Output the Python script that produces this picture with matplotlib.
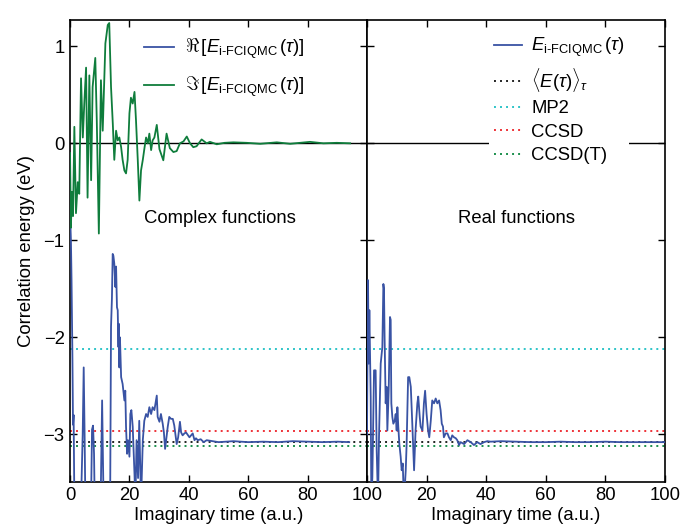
import matplotlib
matplotlib.use("Agg")
import matplotlib.pyplot as plt
from matplotlib.lines import Line2D

plt.rcParams['font.family'] = ['Liberation Sans', 'DejaVu Sans']
plt.rcParams['mathtext.fontset'] = 'custom'
plt.rcParams['mathtext.rm'] = 'Liberation Sans'
plt.rcParams['mathtext.it'] = 'Liberation Sans:italic'
plt.rcParams['mathtext.fallback'] = 'cm'

# ---------------- data ----------------
# Complex functions: imaginary part (green)
im_x = [0.0, 0.3, 0.6, 1.0, 1.45, 2.0, 2.6, 3.1, 3.7, 4.3, 4.8, 5.4, 5.9, 6.5, 7.1,
        7.6, 8.5, 9.0, 9.7, 10.4, 11.0, 11.9, 12.7, 13.2, 13.8, 14.4, 14.9, 15.5,
        16.05, 16.6, 17.2, 17.7, 18.3, 18.85, 19.4, 20.0, 20.5, 21.1, 21.7, 22.2,
        22.8, 23.35, 23.9, 24.5, 25.1, 25.6, 26.2, 26.7, 27.3, 27.8, 28.4, 29.2,
        30.1, 31.4, 32.5, 33.6, 34.8, 35.9, 37.0, 38.2, 39.3, 40.4, 41.5, 42.6,
        44.3, 46.0, 47.1, 49.4, 52.0, 55.0, 59.5, 64.0, 69.6, 74.1, 80.8, 85.3,
        89.8, 94.3]
im_y = [-0.10, -0.87, -0.50, -0.75, 0.17, -0.72, -0.40, -0.52, 0.67, 0.06, 0.41,
        0.78, -0.56, 0.70, -0.38, 0.58, 0.88, 0.24, -0.93, 0.65, 0.13, 1.03, 1.22,
        1.24, 0.58, 0.20, -0.17, 0.13, 0.03, 0.06, -0.04, -0.17, -0.28, -0.31,
        -0.17, 0.31, 0.47, 0.41, 0.53, 0.24, -0.17, -0.59, -0.28, -0.17, -0.04,
        0.06, 0.00, 0.10, -0.07, 0.03, 0.06, 0.19, -0.06, -0.175, 0.10, -0.05,
        -0.09, -0.08, 0.0, 0.02, 0.07, 0.0, -0.04, -0.03, 0.04, 0.0, 0.015,
        -0.01, 0.005, 0.01, 0.005, -0.005, 0.01, -0.005, 0.015, 0.0, 0.005, 0.0]

# Complex functions: real part (blue)
re_x = [0.0, 0.3, 0.5, 0.8, 1.0, 1.2, 1.46, 3.7, 4.26, 4.6, 4.9, 5.16, 7.07, 7.4,
        7.74, 8.08, 8.3, 10.3, 10.8, 11.1, 11.3, 13.5, 13.8, 14.1, 14.36, 14.6,
        14.9, 15.26, 15.5, 15.8, 16.05, 16.3, 16.4, 16.6, 16.8, 17.2, 17.7, 18.3,
        18.6, 18.85, 19.2, 19.5, 20.0, 20.3, 20.65, 21.1, 21.7, 22.0, 22.4, 22.9,
        23.3, 23.9, 24.5, 25.0, 25.6, 26.15, 26.7, 27.3, 27.8, 28.4, 29.2, 29.5,
        30.1, 30.6, 31.2, 31.6, 32.0, 32.9, 33.4, 34.0, 34.6, 35.1, 35.9, 36.4,
        37.0, 37.4, 37.9, 38.5, 39.05, 40.2, 41.3, 41.9, 42.4, 43.0, 44.0, 45.0,
        46.0, 48.0, 50.0, 55.0, 60.0, 65.0, 70.0, 75.0, 80.0, 85.0, 90.0, 94.0]
re_y = [-0.72, -1.00, -1.40, -2.20, -2.90, -2.80, -3.70, -3.70, -3.00, -2.31,
        -3.00, -3.70, -3.70, -2.95, -2.91, -3.20, -3.70, -3.70, -2.65, -3.30,
        -3.70, -3.70, -1.89, -1.60, -1.14, -1.16, -1.24, -1.48, -1.27, -1.69,
        -1.72, -2.10, -1.86, -2.31, -2.00, -2.41, -2.48, -2.65, -2.55, -2.92,
        -3.20, -3.06, -3.23, -2.79, -2.75, -2.92, -3.41, -3.70, -3.06, -3.45,
        -2.86, -3.70, -3.06, -2.86, -2.79, -2.82, -2.72, -2.79, -2.72, -2.75,
        -2.60, -2.82, -2.87, -2.79, -2.89, -2.98, -3.15, -2.92, -2.82, -2.84,
        -2.84, -2.91, -3.10, -3.03, -2.87, -2.98, -3.01, -2.99, -2.98, -3.03,
        -2.99, -3.06, -3.04, -3.06, -3.05, -3.08, -3.06, -3.07, -3.08, -3.07,
        -3.08, -3.075, -3.08, -3.07, -3.075, -3.08, -3.075, -3.08]

# Real functions (blue)
rf_x = [0.0, 0.34, 0.57, 0.79, 1.24, 1.46, 1.8, 2.36, 2.9, 3.25, 3.7, 4.03, 4.6,
        5.15, 5.5, 5.7, 5.9, 6.27, 6.6, 6.83, 7.28, 7.72, 7.95, 8.17, 8.5, 8.84,
        9.29, 9.63, 9.96, 10.2, 10.5, 10.86, 11.3, 11.64, 12.0, 12.4, 13.0, 13.3,
        13.8, 14.2, 14.7, 15.2, 15.8, 16.3, 16.9, 17.2, 17.7, 18.0, 18.6, 19.1,
        19.5, 20.0, 20.5, 20.9, 21.4, 21.9, 22.5, 23.05, 23.6, 24.2, 24.7, 25.1,
        25.5, 25.8, 26.4, 27.0, 27.5, 28.1, 28.6, 29.2, 29.8, 30.3, 30.9, 31.4,
        32.6, 33.7, 34.8, 35.9, 37.0, 38.1, 39.3, 40.4, 41.5, 45.0, 50.0, 55.0,
        60.0, 65.0, 70.0, 75.0, 80.0, 85.0, 90.0, 95.0, 100.0]
rf_y = [-3.00, -1.41, -2.27, -1.72, -2.61, -3.70, -3.44, -2.34, -2.34, -3.16,
        -3.70, -3.03, -2.27, -2.10, -1.45, -1.50, -1.99, -2.68, -2.51, -2.96,
        -2.55, -1.79, -1.82, -2.68, -2.82, -2.89, -2.86, -2.79, -2.96, -2.72,
        -2.92, -3.10, -3.23, -3.37, -3.30, -3.70, -3.37, -3.10, -2.41, -2.41,
        -2.51, -2.89, -3.37, -2.96, -2.68, -2.61, -2.82, -2.92, -2.96, -2.68,
        -2.55, -2.79, -2.96, -3.03, -2.86, -2.65, -2.68, -2.63, -2.68, -2.65,
        -2.75, -2.89, -2.92, -3.03, -2.99, -2.99, -3.03, -3.06, -3.01, -3.03,
        -3.04, -3.06, -3.11, -3.08, -3.10, -3.06, -3.08, -3.11, -3.08, -3.10,
        -3.08, -3.07, -3.075, -3.07, -3.075, -3.08, -3.08, -3.075, -3.08, -3.08,
        -3.075, -3.08, -3.08, -3.08, -3.08]

# Reference energies (eV)
e_mean = -3.075
e_mp2 = -2.12
e_ccsd = -2.97
e_ccsdt = -3.115

yticks = [-3, -2, -1, 0, 1]
ytick_labels = ['\u22123', '\u22122', '\u22121', '0', '1']
xticks = [0, 20, 40, 60, 80, 100]

# ---------------- styling ----------------
blue = '#3953a4'
green = '#0f7d3c'
c_mean = '#222222'
c_mp2 = '#2ec4c8'
c_ccsd = '#ee3238'
c_ccsdt = '#1a8f4c'
dots = (0, (1, 2.1))
fs = 13.3

fig = plt.figure(figsize=(6.8, 5.29), dpi=100)
axL = fig.add_axes([0.103, 0.089, 0.4368, 0.873])
axR = fig.add_axes([0.5397, 0.089, 0.4382, 0.873], sharey=axL)

ylim = (-3.49, 1.27)

def ref_lines(ax):
    ax.axhline(e_mp2, color=c_mp2, lw=1.4, ls=dots, zorder=2)
    ax.axhline(e_ccsd, color=c_ccsd, lw=1.4, ls=dots, zorder=2)
    ax.axhline(e_mean, color=c_mean, lw=1.4, ls=dots, zorder=2)
    ax.axhline(e_ccsdt, color=c_ccsdt, lw=1.4, ls=dots, zorder=2)
    ax.axhline(0, color='black', lw=1.0, zorder=1)

for ax in (axL, axR):
    ref_lines(ax)
    ax.set_xlim(0, 100)
    ax.set_ylim(*ylim)
    ax.set_xticks(xticks)
    ax.set_yticks(yticks)
    ax.tick_params(direction='in', top=True, right=True, length=5, width=1.0,
                   labelsize=fs, pad=4)
    for s in ax.spines.values():
        s.set_linewidth(1.2)
    ax.set_xlabel('Imaginary time (a.u.)', fontsize=fs, labelpad=2)

axL.set_yticklabels(ytick_labels)
axL.set_xticklabels([str(v) for v in xticks])
axR.set_xticklabels([''] + [str(v) for v in xticks[1:]])
axR.tick_params(labelleft=False)
axL.set_ylabel('Correlation energy (eV)', fontsize=fs, labelpad=6)

sub = r'_{\mathrm{i\text{-}FCIQMC}}'
lr, = axL.plot(re_x, re_y, color=blue, lw=1.3, zorder=3,
               label=r'$\Re\,[E' + sub + r'\,(\tau)]$')
li, = axL.plot(im_x, im_y, color=green, lw=1.3, zorder=3,
               label=r'$\Im\,[E' + sub + r'\,(\tau)]$')
axL.legend(handles=[lr, li], loc='upper left', bbox_to_anchor=(0.2, 0.995),
           frameon=True, framealpha=1, edgecolor='none', fontsize=fs,
           handlelength=1.6, handletextpad=0.6, labelspacing=0.75, borderpad=0.3)

lb, = axR.plot(rf_x, rf_y, color=blue, lw=1.3, zorder=3,
               label=r'$E' + sub + r'\,(\tau)$')
h_mean = Line2D([], [], color=c_mean, lw=1.4, ls=dots, label=r'$\langle E(\tau)\rangle_\tau$')
h_mp2 = Line2D([], [], color=c_mp2, lw=1.4, ls=dots, label='MP2')
h_ccsd = Line2D([], [], color=c_ccsd, lw=1.4, ls=dots, label='CCSD')
h_ccsdt = Line2D([], [], color=c_ccsdt, lw=1.4, ls=dots, label='CCSD(T)')
axR.legend(handles=[lb, h_mean, h_mp2, h_ccsd, h_ccsdt], loc='upper left',
           bbox_to_anchor=(0.38, 0.995), frameon=True, framealpha=1,
           edgecolor='none', fontsize=fs, handlelength=1.5, handletextpad=0.5,
           labelspacing=0.35, borderpad=0.25)

axL.text(50.5, -0.78, 'Complex functions', ha='center', va='center', fontsize=fs)
axR.text(50.3, -0.78, 'Real functions', ha='center', va='center', fontsize=fs)

fig.savefig('out.png', dpi=100)
